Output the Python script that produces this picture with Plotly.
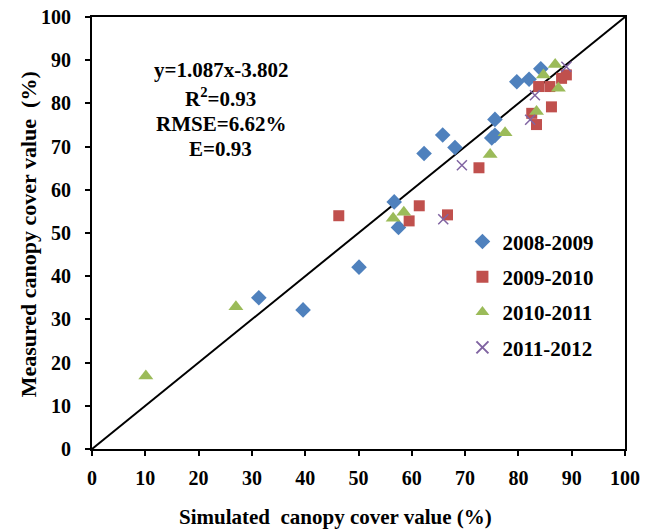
import plotly.graph_objects as go

# 2008-2009 (blue diamonds)
sim_0809 = [31.3, 39.6, 50.1, 56.7, 57.5, 62.3, 65.8, 68.1, 75.0, 75.6, 75.6, 79.7, 82.0, 84.2]
mea_0809 = [35.0, 32.2, 42.1, 57.2, 51.3, 68.4, 72.7, 69.8, 72.0, 72.6, 76.3, 85.0, 85.6, 88.0]
# 2009-2010 (red squares)
sim_0910 = [46.3, 59.5, 61.4, 66.7, 72.6, 82.5, 83.4, 86.2, 83.8, 85.9, 88.1, 89.0]
mea_0910 = [54.0, 52.8, 56.3, 54.2, 65.1, 77.7, 75.1, 79.2, 83.9, 83.9, 85.8, 86.6]
# 2010-2011 (green triangles)
sim_1011 = [10.1, 27.0, 56.5, 58.5, 74.7, 77.5, 83.4, 84.7, 86.9, 87.5]
mea_1011 = [16.9, 32.9, 53.4, 54.8, 68.2, 73.2, 78.1, 86.6, 89.0, 83.5]
# 2011-2012 (purple crosses)
sim_1112 = [65.9, 69.4, 82.2, 83.1, 89.0]
mea_1112 = [53.2, 65.7, 76.2, 81.9, 88.5]

line_1to1 = [0, 100]
tick_vals = [0, 10, 20, 30, 40, 50, 60, 70, 80, 90, 100]
stats_lines = ["y=1.087x-3.802", "R<sup>2</sup>=0.93", "RMSE=6.62%", "E=0.93"]
x_title = "Simulated  canopy cover value (%)"
y_title = "Measured canopy cover value  (%)"

FONT = "Liberation Serif, Times New Roman, serif"

fig = go.Figure()
fig.add_trace(go.Scatter(x=line_1to1, y=line_1to1, mode="lines",
                         line=dict(color="black", width=2), showlegend=False,
                         hoverinfo="skip"))
fig.add_trace(go.Scatter(x=sim_0809, y=mea_0809, mode="markers", name="<b>2008-2009</b>",
                         legendgroup="a",
                         marker=dict(symbol="diamond", size=12, color="#4F81BD")))
fig.add_trace(go.Scatter(x=sim_0910, y=mea_0910, mode="markers", name="<b>2009-2010</b>",
                         legendgroup="b",
                         marker=dict(symbol="square", size=11, color="#C0504D")))
fig.add_trace(go.Scatter(x=sim_1011, y=mea_1011, mode="markers", name="<b>2010-2011</b>",
                         legendgroup="c",
                         marker=dict(symbol="triangle-up", size=13, color="#9BBB59")))
fig.add_trace(go.Scatter(x=sim_1112, y=mea_1112, mode="markers", name="<b>2011-2012</b>",
                         legendgroup="d",
                         marker=dict(symbol="x-thin", size=10, color="#8064A2",
                                     line=dict(color="#8064A2", width=1.5))))

ys = [0.877, 0.813, 0.752, 0.694]
for t, yy in zip(stats_lines, ys):
    fig.add_annotation(x=0.242, y=yy, xref="paper", yref="paper", text="<b>" + t + "</b>",
                       showarrow=False, xanchor="center", yanchor="middle",
                       font=dict(family=FONT, size=21, color="black"))

# axis titles
fig.add_annotation(x=0.456, y=-0.157, xref="paper", yref="paper",
                   text="<b>" + x_title + "</b>", showarrow=False,
                   xanchor="center", yanchor="middle",
                   font=dict(family=FONT, size=21, color="black"))
fig.add_annotation(x=-0.12, y=0.497, xref="paper", yref="paper",
                   text="<b>" + y_title + "</b>", showarrow=False, textangle=-90,
                   xanchor="center", yanchor="middle",
                   font=dict(family=FONT, size=22, color="black"))

axis_common = dict(range=[0, 100], tickvals=tick_vals, showgrid=False, zeroline=False,
                   showline=True, linecolor="black", linewidth=2, mirror=True,
                   ticks="outside", ticklen=5, tickwidth=2, tickcolor="black",
                   automargin=False, ticklabeloverflow="allow",
                   tickfont=dict(family=FONT, size=20, color="black", weight="bold"))

fig.update_xaxes(**axis_common, ticklabelstandoff=5)
fig.update_yaxes(**axis_common, ticklabelstandoff=10)

fig.update_layout(
    width=650, height=530,
    margin=dict(l=92, r=25, t=17, b=81),
    plot_bgcolor="white", paper_bgcolor="white",
    font=dict(family=FONT, color="black"),
    legend=dict(x=0.695, y=0.527, xanchor="left", yanchor="top",
                bgcolor="rgba(0,0,0,0)", tracegroupgap=5, itemsizing="constant",
                font=dict(family=FONT, size=21, color="black"),
                itemwidth=30),
)

fig.write_html("out.html", config={"displayModeBar": False},
               post_script="document.body.style.margin='0px';")
